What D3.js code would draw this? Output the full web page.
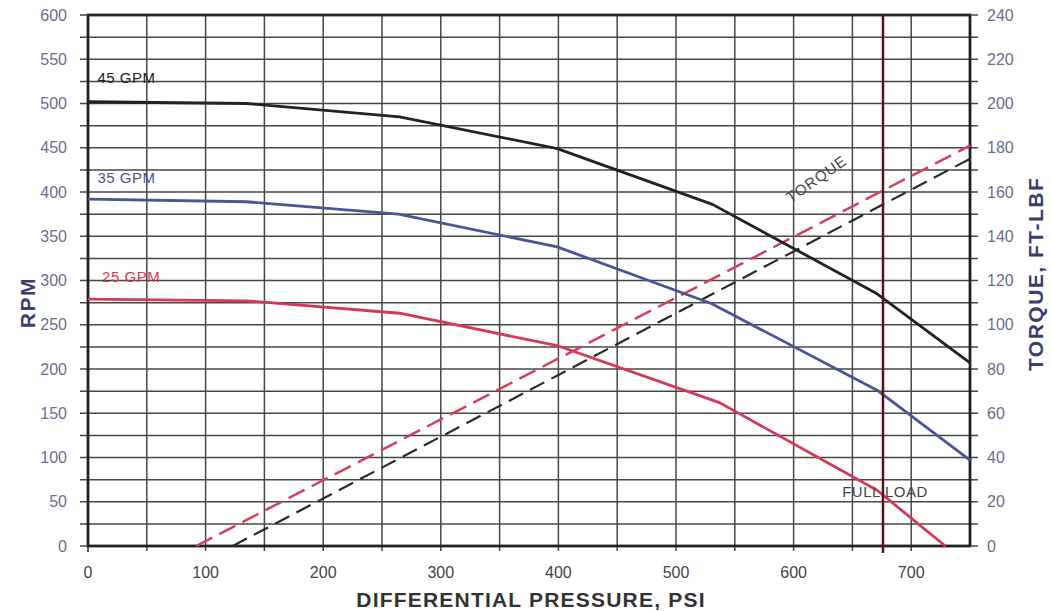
<!DOCTYPE html>
<html>
<head>
<meta charset="utf-8">
<script src="https://cdn.jsdelivr.net/npm/d3@7"></script>
<style>
  body { margin: 0; background: #fff; }
  svg { font-family: "Liberation Sans", Arial, sans-serif; }
</style>
</head>
<body>
<svg id="chart" width="1051" height="611"></svg>
<script>
// pressure (psi) / rpm readings per flow rate
const gpm45Psi = [0, 135, 265, 399, 531, 671, 750];
const gpm45Rpm = [502, 500, 485, 449, 386, 285, 207];
const gpm35Psi = [0, 135, 264, 399, 530, 671, 750];
const gpm35Rpm = [392, 389, 375, 338, 274, 176, 97];
const gpm25Psi = [0, 135, 265, 400, 537, 671, 729];
const gpm25Rpm = [279, 277, 263, 226, 162, 63, 0];

// torque lines (psi, ft-lbf)
const torqueRedPsi = [92, 750];
const torqueRedVal = [0, 181];
const torqueBlackPsi = [123, 750];
const torqueBlackVal = [0, 175];

const fullLoadPsi = 676;

const xTicks = [0, 100, 200, 300, 400, 500, 600, 700];
const rpmTicks = [0, 50, 100, 150, 200, 250, 300, 350, 400, 450, 500, 550, 600];
const torqueTicks = [0, 20, 40, 60, 80, 100, 120, 140, 160, 180, 200, 220, 240];

const curves = [
  { name: '45 GPM', psi: gpm45Psi, rpm: gpm45Rpm, color: '#222222', lx: 8, ly: 502 + 21 },
  { name: '35 GPM', psi: gpm35Psi, rpm: gpm35Rpm, color: '#4b5496', lx: 8, ly: 392 + 18 },
  { name: '25 GPM', psi: gpm25Psi, rpm: gpm25Rpm, color: '#d6375a', lx: 12, ly: 279 + 19 }
];

const svg = d3.select('#chart');
const margin = { left: 88, right: 81, top: 15, bottom: 65 };
const W = 1051, H = 611;

const x = d3.scaleLinear().domain([0, 750]).range([margin.left, W - margin.right]);
const y = d3.scaleLinear().domain([0, 600]).range([H - margin.bottom, margin.top]);
const yT = d3.scaleLinear().domain([0, 240]).range([H - margin.bottom, margin.top]);

const gridColor = '#474747';

// Grid
const grid = svg.append('g');
grid.selectAll('.vg')
  .data(d3.range(50, 750, 50))
  .join('line')
  .attr('x1', d => x(d)).attr('x2', d => x(d))
  .attr('y1', y(600)).attr('y2', y(0) + 5)
  .attr('stroke', gridColor).attr('stroke-width', 1.5);
grid.selectAll('.hg')
  .data(d3.range(25, 600, 25))
  .join('line')
  .attr('x1', x(0) - 8).attr('x2', x(750) + 8)
  .attr('y1', d => y(d)).attr('y2', d => y(d))
  .attr('stroke', gridColor).attr('stroke-width', 1.5);

// Frame
svg.append('rect')
  .attr('x', x(0)).attr('y', y(600))
  .attr('width', x(750) - x(0)).attr('height', y(0) - y(600))
  .attr('fill', 'none').attr('stroke', '#222').attr('stroke-width', 2.8);
[[x(0) - 8, x(0), y(600)], [x(0) - 8, x(0), y(0)], [x(750), x(750) + 8, y(0)], [x(750), x(750) + 8, y(600)]]
  .forEach(t => {
    svg.append('line')
      .attr('x1', t[0]).attr('x2', t[1]).attr('y1', t[2]).attr('y2', t[2])
      .attr('stroke', gridColor).attr('stroke-width', 1.5);
  });
svg.append('line')
  .attr('x1', x(0)).attr('x2', x(0)).attr('y1', y(0)).attr('y2', y(0) + 6)
  .attr('stroke', '#222').attr('stroke-width', 1.5);

// Axes labels
svg.append('g').selectAll('text')
  .data(rpmTicks)
  .join('text')
  .attr('x', x(0) - 21).attr('y', d => y(d) + 5.5)
  .attr('text-anchor', 'end')
  .attr('font-size', 16).attr('fill', '#6b6d8e')
  .text(d => d);

svg.append('g').selectAll('text')
  .data(torqueTicks)
  .join('text')
  .attr('x', x(750) + 17).attr('y', d => yT(d) + 5.5)
  .attr('text-anchor', 'start')
  .attr('font-size', 16).attr('fill', '#6b6d8e')
  .text(d => d);

svg.append('g').selectAll('text')
  .data(xTicks)
  .join('text')
  .attr('x', d => x(d)).attr('y', y(0) + 32)
  .attr('text-anchor', 'middle')
  .attr('font-size', 16).attr('fill', '#444')
  .text(d => d);

svg.append('text')
  .attr('x', 531).attr('y', 607)
  .attr('text-anchor', 'middle')
  .attr('font-size', 21).attr('font-weight', 'bold').attr('fill', '#333')
  .attr('letter-spacing', 1.2)
  .text('DIFFERENTIAL PRESSURE, PSI');

svg.append('text')
  .attr('transform', `translate(35, ${y(275)}) rotate(-90)`)
  .attr('text-anchor', 'middle')
  .attr('font-size', 21).attr('font-weight', 'bold').attr('fill', '#3a3d6e')
  .attr('letter-spacing', 1.5)
  .text('RPM');

svg.append('text')
  .attr('transform', `translate(1043, ${yT(123)}) rotate(-90)`)
  .attr('text-anchor', 'middle')
  .attr('font-size', 21).attr('font-weight', 'bold').attr('fill', '#3a3d6e')
  .attr('letter-spacing', 1.5)
  .text('TORQUE, FT-LBF');

// Torque lines
const torqueLine = d3.line().x(d => x(d[0])).y(d => yT(d[1]));
svg.append('path')
  .datum(d3.zip(torqueBlackPsi, torqueBlackVal))
  .attr('d', torqueLine)
  .attr('fill', 'none').attr('stroke', '#2a2a2a').attr('stroke-width', 2.2)
  .attr('stroke-dasharray', '16,8');
svg.append('path')
  .datum(d3.zip(torqueRedPsi, torqueRedVal))
  .attr('d', torqueLine)
  .attr('fill', 'none').attr('stroke', '#d2405e').attr('stroke-width', 2.5)
  .attr('stroke-dasharray', '18,8');

// RPM curves
const rpmLine = d3.line().x(d => x(d[0])).y(d => y(d[1]));
curves.forEach(c => {
  svg.append('path')
    .datum(d3.zip(c.psi, c.rpm))
    .attr('d', rpmLine)
    .attr('fill', 'none').attr('stroke', c.color).attr('stroke-width', 2.8)
    .attr('stroke-linejoin', 'round');
  svg.append('text')
    .attr('x', x(c.lx)).attr('y', y(c.ly))
    .attr('font-size', 15).attr('fill', c.color)
    .attr('letter-spacing', 0.5)
    .text(c.name);
});

// Full load
svg.append('line')
  .attr('x1', x(fullLoadPsi)).attr('x2', x(fullLoadPsi))
  .attr('y1', y(600)).attr('y2', y(0) + 7)
  .attr('stroke', '#5a1020').attr('stroke-width', 2.5);

svg.append('text')
  .attr('x', x(fullLoadPsi) + 2).attr('y', y(55))
  .attr('text-anchor', 'middle')
  .attr('font-size', 15).attr('fill', '#444')
  .attr('letter-spacing', 0.5)
  .text('FULL LOAD');

svg.append('text')
  .attr('transform', `translate(${x(622)}, ${y(410)}) rotate(-35)`)
  .attr('text-anchor', 'middle')
  .attr('font-size', 15).attr('fill', '#444')
  .attr('letter-spacing', 1)
  .text('TORQUE');
</script>
</body>
</html>
